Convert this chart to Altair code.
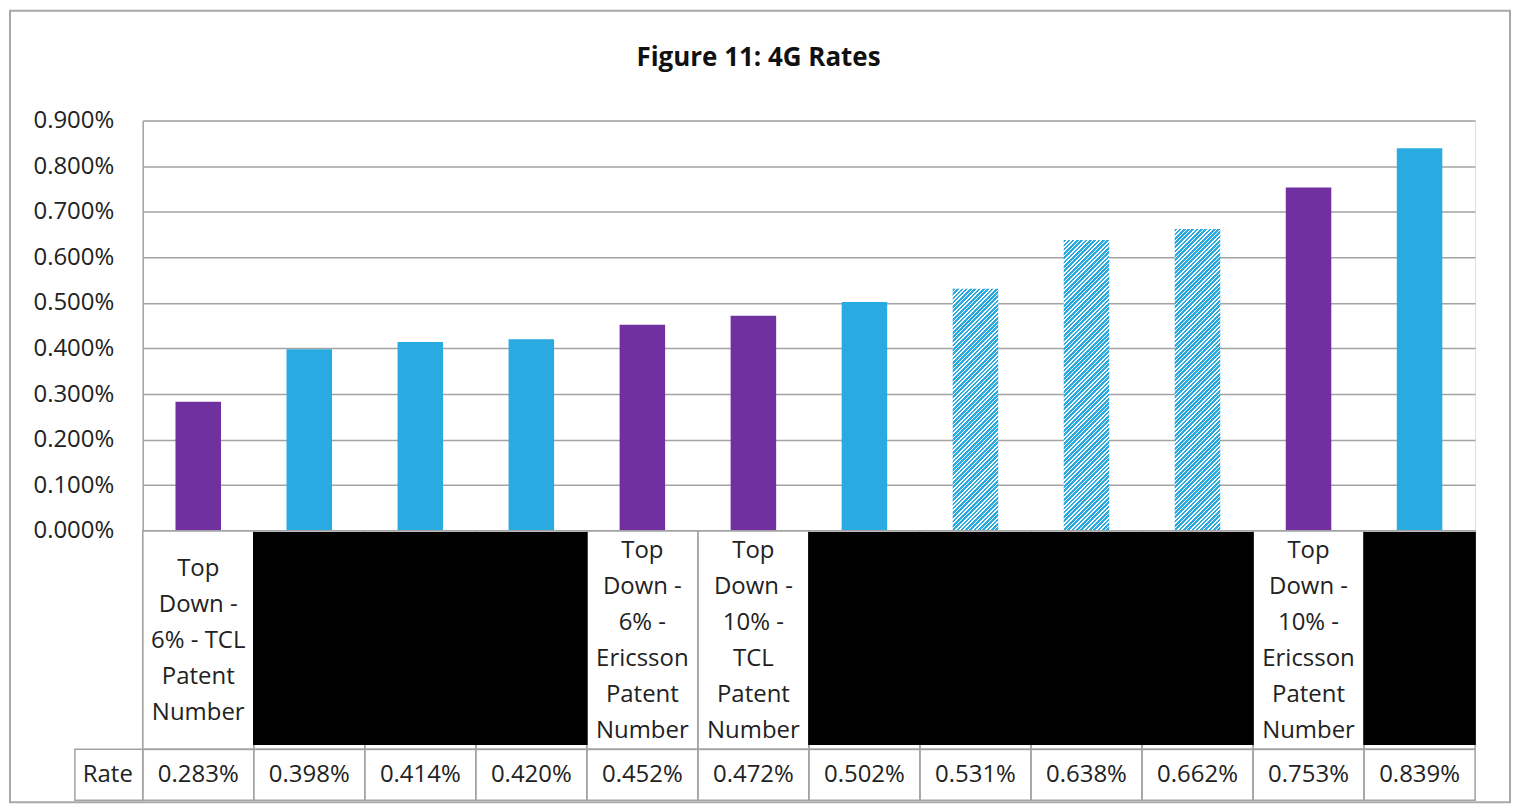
import altair as alt
import pandas as pd

# ---- data ----
rates_pct = [0.283, 0.398, 0.414, 0.420, 0.452, 0.472, 0.502, 0.531, 0.638, 0.662, 0.753, 0.839]
kinds = ["top", "other", "other", "other", "top", "top", "other", "hatch", "hatch", "hatch", "top", "other"]
label_lines = [
    ["Top", "Down -", "6% - TCL", "Patent", "Number"],
    [], [], [],
    ["Top", "Down -", "6% -", "Ericsson", "Patent", "Number"],
    ["Top", "Down -", "10% -", "TCL", "Patent", "Number"],
    [], [], [], [],
    ["Top", "Down -", "10% -", "Ericsson", "Patent", "Number"],
    [],
]
redacted = [len(l) == 0 for l in label_lines]
y_ticks = [0.000, 0.001, 0.002, 0.003, 0.004, 0.005, 0.006, 0.007, 0.008, 0.009]
title_text = "Figure 11: 4G Rates"

PURPLE = "#7030A0"
BLUE = "#29ABE2"
GRID = "#a3a3a3"
TEXT = "#222222"
FONT = "Open Sans"

W = 1335
H_BARS = 411
H_LAB = 219
H_RATE = 51
PAD_IN = 0.59
LINE_H = 36

df = pd.DataFrame({
    "idx": list(range(1, 13)),
    "rate": [r / 100 for r in rates_pct],
    "kind": kinds,
    "lines": label_lines,
    "nlines": [len(l) for l in label_lines],
    "redacted": redacted,
})

xb = alt.X("idx:O", scale=alt.Scale(paddingInner=PAD_IN, paddingOuter=PAD_IN / 2), axis=None)
yb = alt.Y("rate:Q", scale=alt.Scale(domain=[0, 0.009], nice=False),
           axis=alt.Axis(values=y_ticks, format=".3%", title=None, ticks=False,
                         labelFontSize=24, labelFont=FONT, labelColor=TEXT, labelPadding=29,
                         domainColor=GRID, domainWidth=1.5, gridColor=GRID, gridWidth=1.5))

one = pd.DataFrame({"t": [title_text]})

frame = alt.Chart(one).mark_rect(fill=None, stroke="#a8a8a8", strokeWidth=2).encode(
    x=alt.value(-133), x2=alt.value(1370), y=alt.value(-110), y2=alt.value(683))

title = alt.Chart(one).mark_text(fontSize=26, font=FONT, fontWeight="bold", color="#111111",
                                 baseline="alphabetic", align="center").encode(
    x=alt.value(617), y=alt.value(-55), text="t:N")

solid = alt.Chart(df[df.kind != "hatch"]).mark_bar().encode(
    x=xb, y=yb,
    color=alt.Color("kind:N", scale=alt.Scale(domain=["top", "other"], range=[PURPLE, BLUE]), legend=None))

# hatched bars: diagonal stripes via a hard-stop linear gradient
step = W / 12
bw = step * (1 - PAD_IN)
hatch_layers = []
for _, row in df[df.kind == "hatch"].iterrows():
    h = row["rate"] / 0.009 * H_BARS
    s = (bw + h) * h / (h * h + bw * bw)
    n = max(1, round((bw + h) / 4.3))
    stops = []
    for k in range(n):
        a0 = k / n
        am = (k + 0.62) / n
        a1 = (k + 1) / n
        stops += [alt.GradientStop(offset=a0, color=BLUE), alt.GradientStop(offset=am, color=BLUE),
                  alt.GradientStop(offset=am, color="#ffffff"), alt.GradientStop(offset=a1, color="#ffffff")]
    grad = alt.LinearGradient(gradient="linear", stops=stops, x1=0, y1=0, x2=s * bw / h, y2=s)
    hatch_layers.append(alt.Chart(df[df.idx == row["idx"]]).mark_bar(fill=grad).encode(x=xb, y=yb))

bars = alt.layer(frame, title, solid, *hatch_layers).properties(width=W, height=H_BARS)

xt = alt.X("idx:O", scale=alt.Scale(paddingInner=0, paddingOuter=0), axis=None)

cells_lab = alt.Chart(df).mark_rect(fill=None, stroke=GRID, strokeWidth=1.5).encode(
    x=xt, y=alt.value(0), y2=alt.value(H_LAB))
black = alt.Chart(df[df.redacted]).mark_rect(color="#000000", stroke="#000000", strokeWidth=1.5).encode(
    x=xt, y=alt.value(2), y2=alt.value(214))
# first line's centre moves up by half a line per extra line, so each block is centred in its cell
c = H_LAB / 2 + 1
lab_text = alt.Chart(df[~df.redacted]).mark_text(
    fontSize=24, font=FONT, color=TEXT, lineHeight=LINE_H, baseline="middle", align="center").encode(
    x=xt,
    y=alt.Y("nlines:Q", scale=alt.Scale(domain=[1, 6], range=[c, c - 5 * LINE_H / 2]), axis=None),
    text="lines")
labels = alt.layer(cells_lab, black, lab_text).resolve_scale(y="independent").properties(width=W, height=H_LAB)

cells_rate = alt.Chart(df).mark_rect(fill=None, stroke=GRID, strokeWidth=1.5).encode(
    x=xt, y=alt.value(0), y2=alt.value(H_RATE))
rate_text = alt.Chart(df).mark_text(fontSize=24, font=FONT, color=TEXT, baseline="middle").encode(
    x=xt, y=alt.value(H_RATE / 2), text=alt.Text("rate:Q", format=".3%"))
rate_df = pd.DataFrame({"t": ["Rate"]})
rate_cell = alt.Chart(rate_df).mark_rect(fill=None, stroke=GRID, strokeWidth=1.5).encode(
    x=alt.value(-68), x2=alt.value(0), y=alt.value(0), y2=alt.value(H_RATE))
rate_lab = alt.Chart(rate_df).mark_text(
    fontSize=24, font=FONT, color=TEXT, baseline="middle").encode(
    x=alt.value(-35), y=alt.value(H_RATE / 2), text="t:N")
rate_row = alt.layer(cells_rate, rate_text, rate_cell, rate_lab).properties(width=W, height=H_RATE)

chart = alt.vconcat(bars, labels, rate_row, spacing=0, bounds="flush").properties(
    padding={"left": 0, "top": 0, "right": 0, "bottom": 0}
).configure_view(stroke=None).configure(background="white")

chart.save("out.html", embed_options={"renderer": "svg", "actions": False})
